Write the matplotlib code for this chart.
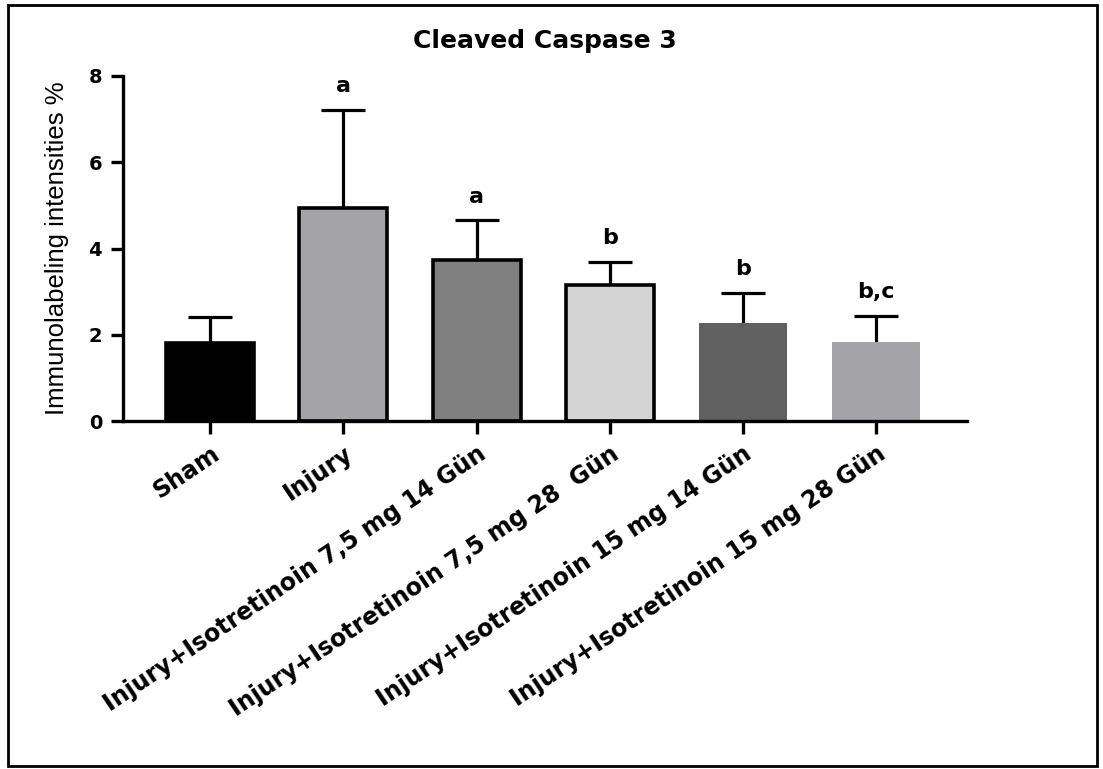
import matplotlib
matplotlib.use('Agg')
import matplotlib.pyplot as plt
import matplotlib.patches as patches
import numpy as np

# data
groups = ['Sham', 'Injury',
          'Injury+Isotretinoin 7,5 mg 14 Gün',
          'Injury+Isotretinoin 7,5 mg 28  Gün',
          'Injury+Isotretinoin 15 mg 14 Gün',
          'Injury+Isotretinoin 15 mg 28 Gün']
means = [1.81, 4.94, 3.74, 3.16, 2.27, 1.83]
sd = [0.60, 2.28, 0.91, 0.53, 0.70, 0.61]
letters = ['', 'a', 'a', 'b', 'b', 'b,c']
bar_colors = ['#000000', '#a3a3a8', '#808080', '#d4d4d4', '#606060', '#a3a3a8']
has_edge = [True, True, True, True, False, False]

plt.rcParams['font.family'] = ['DejaVu Sans']

fig = plt.figure(figsize=(11.03, 7.69), dpi=100)
ax = fig.add_axes([0.1115, 0.4525, 0.765, 0.4487])

x = np.arange(len(groups))
width = 0.66
cap = 0.165

for i in range(len(groups)):
    ax.bar(x[i], means[i], width, color=bar_colors[i],
           edgecolor='black' if has_edge[i] else bar_colors[i],
           linewidth=2.6 if has_edge[i] else 0, zorder=2)
    top = means[i] + sd[i]
    # upper error bar only
    ax.vlines(x[i], means[i], top, color='black', linewidth=2.3, zorder=1)
    ax.hlines(top, x[i] - cap, x[i] + cap, color='black', linewidth=2.3, zorder=1)
    if letters[i]:
        ax.text(x[i], top + 0.32, letters[i], ha='center', va='bottom',
                fontsize=16, fontweight='bold')

ax.set_xlim(-0.654, 5.68)
ax.set_ylim(0, 8)
ax.set_yticks([0, 2, 4, 6, 8])
ax.set_xticks(x)
ax.set_xticklabels(groups, rotation=34, ha='right', rotation_mode='anchor',
                   fontsize=17, fontweight='bold')
for lab in ax.get_yticklabels():
    lab.set_fontweight('bold')
    lab.set_fontsize(14)

ax.spines['top'].set_visible(False)
ax.spines['right'].set_visible(False)
ax.spines['left'].set_linewidth(2.4)
ax.spines['bottom'].set_linewidth(2.4)
ax.tick_params(axis='both', width=2.4, length=9, color='black')
ax.tick_params(axis='x', pad=6)
ax.tick_params(axis='y', pad=6)

ax.set_ylabel('Immunolabeling intensities %', family=['Liberation Sans'],
              fontsize=18.5, labelpad=14)
ax.set_title('Cleaved Caspase 3', fontsize=18, fontweight='bold', pad=20)

# outer frame around the figure
fig.patches.append(patches.Rectangle((0.007, 0.004), 0.988, 0.99, transform=fig.transFigure,
                                     fill=False, edgecolor='black', linewidth=2))

fig.savefig('out.png', dpi=100)
